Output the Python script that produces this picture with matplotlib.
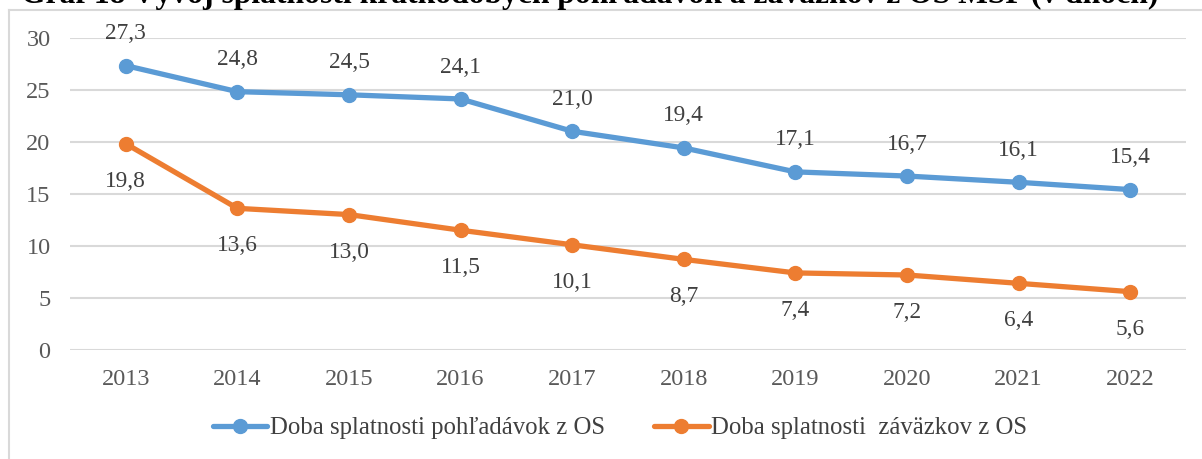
import matplotlib
matplotlib.use("Agg")
import matplotlib.pyplot as plt
from matplotlib.lines import Line2D

years = ["2013", "2014", "2015", "2016", "2017", "2018", "2019", "2020", "2021", "2022"]
receivables = [27.3, 24.8, 24.5, 24.1, 21.0, 19.4, 17.1, 16.7, 16.1, 15.4]
payables = [19.8, 13.6, 13.0, 11.5, 10.1, 8.7, 7.4, 7.2, 6.4, 5.6]
series_names = ["Doba splatnosti pohľadávok z OS", "Doba splatnosti  záväzkov z OS"]
title = "Graf 18 Vývoj splatnosti krátkodobých pohľadávok a záväzkov z OS MSP (v dňoch)"

plt.rcParams['font.family'] = ['Liberation Serif', 'DejaVu Serif']

W, H = 1202, 459
fig = plt.figure(figsize=(W / 100, H / 100), dpi=100)
ax = fig.add_axes([70 / W, 1 - 350 / H, (1186 - 70) / W, (350 - 37.5) / H])

blue = "#5B9BD5"
orange = "#ED7D31"
x = list(range(len(years)))

ax.plot(x, receivables, color=blue, lw=3.8, marker="o", ms=10, solid_capstyle="round",
        label=series_names[0], zorder=3)
ax.plot(x, payables, color=orange, lw=3.8, marker="o", ms=10, solid_capstyle="round",
        label=series_names[1], zorder=3)

fs_lab = 16.8
fs_tick = 17.5
for xi, v in zip(x, receivables):
    ax.annotate(f"{v:.1f}".replace(".", ","), (xi, v), xytext=(0, 23), textcoords="offset points",
                ha="center", va="center", fontsize=fs_lab, color="#404040")
for xi, v in zip(x, payables):
    ax.annotate(f"{v:.1f}".replace(".", ","), (xi, v), xytext=(0, -27), textcoords="offset points",
                ha="center", va="center", fontsize=fs_lab, color="#404040")

ax.set_xlim(-0.5, len(years) - 0.5)
ax.set_ylim(0, 30)
ax.set_yticks([0, 5, 10, 15, 20, 25, 30])
ax.set_xticks(x)
ax.set_xticklabels(years)
ax.grid(axis="y", color="#D9D9D9", lw=1.5)
ax.set_axisbelow(True)
for s in ax.spines.values():
    s.set_visible(False)
ax.tick_params(axis="both", length=0, labelsize=fs_tick, labelcolor="#595959")
ax.tick_params(axis="y", pad=14)
ax.tick_params(axis="x", pad=13.5)

leg = fig.legend(loc="center", bbox_to_anchor=(620 / W, 1 - 428 / H), ncol=2, frameon=False,
                 fontsize=17.8, handlelength=2.2, handletextpad=0.1, columnspacing=2.0,
                 labelcolor="#404040")

# chart frame (left and top edges visible)
fig.add_artist(Line2D([9 / W, 9 / W], [0, 1 - 10 / H], transform=fig.transFigure,
                      color="#D9D9D9", lw=1.5))
fig.add_artist(Line2D([9 / W, 1], [1 - 10 / H, 1 - 10 / H], transform=fig.transFigure,
                      color="#D9D9D9", lw=1.5))

# title, mostly cut off at the top edge as in the reference
fig.text(590 / W, 1 - 3 / H, title, ha="center", va="baseline", fontsize=22.8,
         fontweight="bold", color="black")

fig.savefig("out.png", dpi=100)
